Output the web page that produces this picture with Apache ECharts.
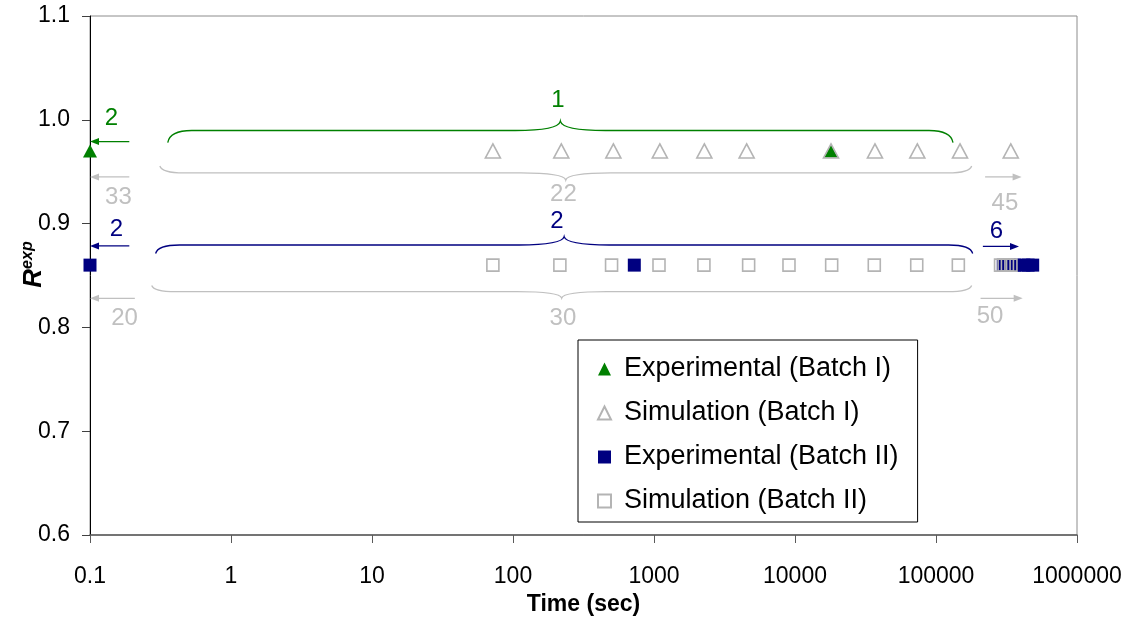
<!DOCTYPE html>
<html>
<head>
<meta charset="utf-8">
<script src="https://cdn.jsdelivr.net/npm/echarts@6/dist/echarts.min.js"></script>
<style>
  html, body { margin: 0; padding: 0; background: #fff; }
  #chart { width: 1130px; height: 620px; }
</style>
</head>
<body>
<div id="chart"></div>
<script>
// ---- data ----
const seriesNames = ['Experimental (Batch I)', 'Simulation (Batch I)', 'Experimental (Batch II)', 'Simulation (Batch II)'];

const expBatch1Time = [0.1, 18000];
const expBatch1R    = [0.97, 0.97];

const simBatch1Time = [72, 220, 515, 1100, 2275, 4540, 18000, 36900, 73700, 148000, 339000];
const simBatch1R    = [0.97, 0.97, 0.97, 0.97, 0.97, 0.97, 0.97, 0.97, 0.97, 0.97, 0.97];

const expBatch2Time = [0.1, 725, 300000, 330000, 360000, 420000, 450000, 485000];
const expBatch2R    = [0.86, 0.86, 0.86, 0.86, 0.86, 0.86, 0.86, 0.86];

const simBatch2Time = [72, 215, 500, 1085, 2260, 4690, 9065, 18200, 36500, 73000, 144000, 287000, 304000, 321000, 340000];
const simBatch2R    = [0.86, 0.86, 0.86, 0.86, 0.86, 0.86, 0.86, 0.86, 0.86, 0.86, 0.86, 0.86, 0.86, 0.86, 0.86];

const xTickLabels = ['0.1', '1', '10', '100', '1000', '10000', '100000', '1000000'];

// point-count annotations: [text, time, R, colour key]
const noteTexts = [
  ['2', 0.142, 1.0017, 'g'], ['33', 0.159, 0.9256, 's'], ['2', 0.154, 0.8948, 'b'], ['20', 0.176, 0.8091, 's'],
  ['1', 208, 1.0191, 'g'], ['22', 228, 0.9285, 's'], ['2', 205, 0.9018, 'b'], ['30', 226, 0.8091, 's'],
  ['45', 308000, 0.9198, 's'], ['6', 268500, 0.8922, 'b'], ['50', 241500, 0.8103, 's']
];
// arrows: [from time, to time, R, colour key]
const arrowSpans = [
  [0.19, 0.1, 0.979, 'g'], [0.19, 0.1, 0.945, 's'], [0.19, 0.1, 0.8785, 'b'], [0.208, 0.1, 0.828, 's'],
  [223000, 405000, 0.945, 's'], [215000, 388000, 0.878, 'b'], [207000, 412000, 0.828, 's']
];
// braces: [from time, to time, line R, end R, cusp R, colour key]
const braceSpans = [
  [0.356, 132000, 0.9897, 0.978, 0.9988, 'g'],
  [0.313, 179000, 0.9488, 0.9555, 0.942, 's'],
  [0.292, 182000, 0.8794, 0.8712, 0.8874, 'b'],
  [0.274, 179000, 0.8344, 0.8404, 0.8283, 's']
];

// ---- styling ----
const FONT = '"Liberation Sans", Arial, Helvetica, sans-serif';
const GREEN = '#008000', NAVY = '#000080', SILVER = '#c0c0c0', SIM_EDGE = '#b4b4b4';
const tone = { g: GREEN, b: NAVY, s: SILVER };

const zip = (xs, ys) => xs.map((x, i) => [x, ys[i]]);

function renderBrace(params, api) {
  const b = braceSpans[params.dataIndex];
  const c = tone[b[5]];
  const p0 = api.coord([b[0], b[3]]);
  const p1 = api.coord([b[1], b[3]]);
  const yl = api.coord([b[0], b[2]])[1];
  const pc = api.coord([Math.sqrt(b[0] * b[1]), b[4]]);
  const X0 = p0[0], X1 = p1[0], Yt = p0[1], Xc = pc[0], Yc = pc[1];
  const d = [
    'M', X0, Yt, 'Q', X0 + 2, yl, X0 + 24, yl,
    'L', Xc - 45, yl, 'Q', Xc - 2, yl, Xc, Yc,
    'Q', Xc + 2, yl, Xc + 45, yl,
    'L', X1 - 24, yl, 'Q', X1 - 2, yl, X1, Yt
  ].join(' ');
  return { type: 'path', shape: { pathData: d }, style: { stroke: c, fill: null, lineWidth: 1.3 } };
}

function renderArrow(params, api) {
  const a = arrowSpans[params.dataIndex];
  const c = tone[a[3]];
  const p0 = api.coord([a[0], a[2]]);
  const p1 = api.coord([a[1], a[2]]);
  const dir = p1[0] > p0[0] ? 1 : -1;
  return {
    type: 'group',
    children: [
      { type: 'line', shape: { x1: p0[0], y1: p0[1], x2: p1[0] - dir * 5, y2: p1[1] }, style: { stroke: c, lineWidth: 1.3 } },
      { type: 'polygon', shape: { points: [[p1[0], p1[1]], [p1[0] - dir * 9, p1[1] - 3.5], [p1[0] - dir * 9, p1[1] + 3.5]] }, style: { fill: c } }
    ]
  };
}

function renderNote(params, api) {
  const n = noteTexts[params.dataIndex];
  const p = api.coord([n[1], n[2]]);
  return {
    type: 'text', x: p[0], y: p[1],
    style: { text: n[0], fill: tone[n[3]], fontSize: 24, fontFamily: FONT, align: 'center', verticalAlign: 'middle' }
  };
}

const chart = echarts.init(document.getElementById('chart'), null, { renderer: 'canvas' });

chart.setOption({
  animation: false,
  backgroundColor: '#fff',
  grid: {
    left: 90, right: 53, top: 16, bottom: 85,
    outerBoundsMode: 'none',
    containLabel: false,
    show: true, borderColor: '#8c8c8c', borderWidth: 1, backgroundColor: 'transparent'
  },
  legend: {
    orient: 'vertical',
    left: 578, top: 340,
    padding: [14, 19, 6, 19],
    itemGap: 14,
    itemWidth: 13, itemHeight: 13,
    borderColor: '#000', borderWidth: 1,
    backgroundColor: '#fff',
    textStyle: { fontSize: 27, fontFamily: FONT, color: '#000', lineHeight: 30, padding: [0, 0, 0, 8] },
    data: seriesNames
  },
  xAxis: {
    type: 'log',
    logBase: 10,
    min: 0.1, max: 1000000,
    splitNumber: 7,
    name: 'Time (sec)',
    nameLocation: 'middle',
    nameGap: 58,
    nameMoveOverlap: false,
    nameTextStyle: { fontSize: 23, fontWeight: 'bold', fontFamily: FONT, color: '#000' },
    axisLine: { show: true, lineStyle: { color: '#5a5a5a', width: 1.5 } },
    axisTick: { show: true, inside: false, length: 8, lineStyle: { color: '#5a5a5a' } },
    minorTick: { show: false },
    splitLine: { show: false },
    axisLabel: {
      margin: 30, fontSize: 23, fontFamily: FONT, color: '#000',
      formatter: v => xTickLabels[Math.round(Math.log10(v)) + 1]
    }
  },
  yAxis: {
    type: 'value',
    min: 0.6, max: 1.1, interval: 0.1,
    name: '{r|R}{e|exp}',
    nameLocation: 'middle',
    nameRotate: 90,
    nameGap: 42,
    nameMoveOverlap: false,
    nameTextStyle: {
      padding: [0, 0, 0, 22],
      rich: {
        r: { fontSize: 26, fontWeight: 'bold', fontStyle: 'italic', fontFamily: FONT, color: '#000', lineHeight: 28 },
        e: { fontSize: 16, fontWeight: 'bold', fontStyle: 'italic', fontFamily: FONT, color: '#000', lineHeight: 28, verticalAlign: 'top', padding: [0, 0, 10, 0] }
      }
    },
    axisLine: { show: true, onZero: false, lineStyle: { color: '#000', width: 1 } },
    axisTick: { show: true, inside: false, length: 8, lineStyle: { color: '#404040' } },
    splitLine: { show: false },
    axisLabel: {
      margin: 20, fontSize: 23, fontFamily: FONT, color: '#000',
      formatter: v => v.toFixed(1)
    }
  },
  series: [
    {
      name: seriesNames[0], type: 'scatter', clip: false,
      symbol: 'triangle', symbolSize: [14, 13],
      itemStyle: { color: GREEN, opacity: 1 },
      data: zip(expBatch1Time, expBatch1R)
    },
    {
      name: seriesNames[1], type: 'scatter', clip: false,
      symbol: 'triangle', symbolSize: [15, 14],
      itemStyle: { color: 'rgba(255,255,255,0)', borderColor: SIM_EDGE, borderWidth: 1.6, opacity: 1 },
      data: zip(simBatch1Time, simBatch1R)
    },
    {
      name: seriesNames[2], type: 'scatter', clip: false,
      symbol: 'rect', symbolSize: 13,
      itemStyle: { color: NAVY, opacity: 1 },
      data: zip(expBatch2Time, expBatch2R)
    },
    {
      name: seriesNames[3], type: 'scatter', clip: false,
      symbol: 'rect', symbolSize: 12,
      itemStyle: { color: 'rgba(255,255,255,0)', borderColor: SIM_EDGE, borderWidth: 1.6, opacity: 1 },
      data: zip(simBatch2Time, simBatch2R)
    },
    {
      type: 'custom', name: 'braces', clip: false, silent: true,
      renderItem: renderBrace,
      data: braceSpans.map(b => [b[0], b[2]])
    },
    {
      type: 'custom', name: 'arrows', clip: false, silent: true,
      renderItem: renderArrow,
      data: arrowSpans.map(a => [a[0], a[2]])
    },
    {
      type: 'custom', name: 'notes', clip: false, silent: true,
      renderItem: renderNote,
      data: noteTexts.map(n => [n[1], n[2]])
    }
  ]
});
</script>
</body>
</html>
